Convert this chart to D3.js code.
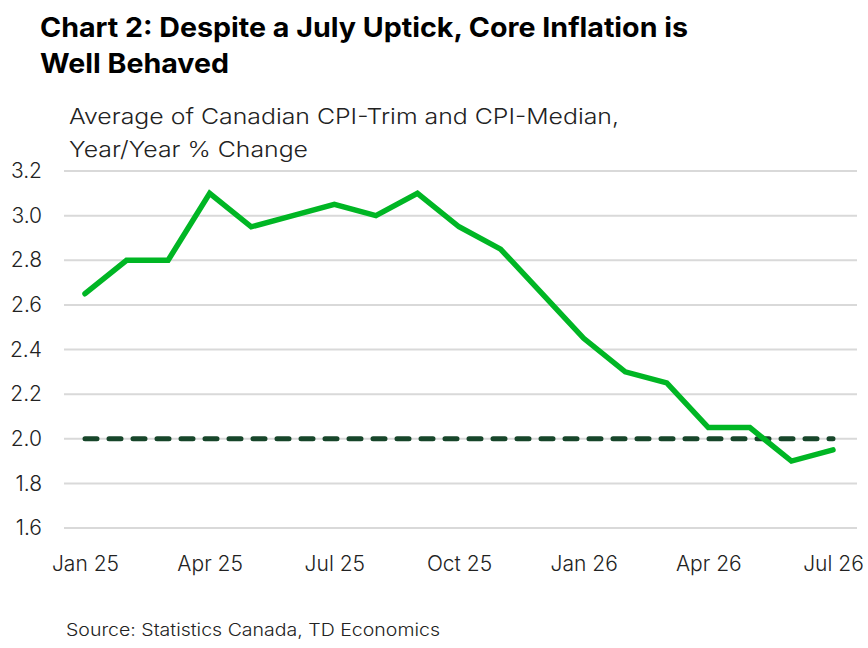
<!DOCTYPE html>
<html>
<head>
<meta charset="utf-8">
<script src="https://cdn.jsdelivr.net/npm/d3@7"></script>
<style>
  body { margin: 0; background: #fff; }
  text { font-family: Inter, "Noto Sans", sans-serif; }
</style>
</head>
<body>
<div id="chart"></div>
<script>
// months shown on the chart
var months = ["Jan 25","Feb 25","Mar 25","Apr 25","May 25","Jun 25","Jul 25","Aug 25","Sep 25",
  "Oct 25","Nov 25","Dec 25","Jan 26","Feb 26","Mar 26","Apr 26","May 26","Jun 26","Jul 26"];
// average of CPI-trim and CPI-median, y/y %
var coreValues = [2.65, 2.8, 2.8, 3.1, 2.95, 3.0, 3.05, 3.0, 3.1,
  2.95, 2.85, 2.65, 2.45, 2.3, 2.25, 2.05, 2.05, 1.9, 1.95];
var targetValue = 2.0;
var yTicks = [1.6, 1.8, 2.0, 2.2, 2.4, 2.6, 2.8, 3.0, 3.2];
var xTickLabels = ["Jan 25","Apr 25","Jul 25","Oct 25","Jan 26","Apr 26","Jul 26"];

var W = 868, H = 648;
var svg = d3.select("#chart").append("svg")
  .attr("width", W).attr("height", H);

// helper for text lines stretched to the reference width
function label(x0, y0, size, weight, len, txt) {
  svg.append("text").attr("x", x0).attr("y", y0)
    .attr("font-size", size).attr("font-weight", weight).attr("fill", weight > 500 ? "#000" : "#222")
    .attr("textLength", len).attr("lengthAdjust", "spacingAndGlyphs")
    .text(txt);
}

// titles
label(40, 37, 27, 700, 648, "Chart 2: Despite a July Uptick, Core Inflation is");
label(40, 73, 27, 700, 189, "Well Behaved");
label(69, 124, 22, 300, 550, "Average of Canadian CPI-Trim and CPI-Median,");
label(69, 157, 22, 300, 239, "Year/Year % Change");

// scales
var x = d3.scalePoint().domain(months).range([85, 833]);
var y = d3.scaleLinear().domain([1.6, 3.2]).range([528, 171]);

// gridlines
svg.append("g").selectAll("line").data(yTicks).enter().append("line")
  .attr("x1", 64).attr("x2", 857)
  .attr("y1", function (d) { return y(d); })
  .attr("y2", function (d) { return y(d); })
  .attr("stroke", "#d9d9d9").attr("stroke-width", 2);

// y axis
var yAxis = svg.append("g").attr("transform", "translate(42,0)")
  .call(d3.axisLeft(y).tickValues(yTicks).tickFormat(d3.format(".1f")).tickSize(0).tickPadding(0));
yAxis.select(".domain").remove();
yAxis.selectAll("text").attr("font-size", 21).attr("fill", "#222")
  .style("font-family", "Inter, 'Noto Sans', sans-serif").attr("font-weight", 300);

// x axis
var xAxis = svg.append("g").attr("transform", "translate(0,554)")
  .call(d3.axisBottom(x).tickValues(xTickLabels).tickSize(0).tickPadding(0));
xAxis.select(".domain").remove();
xAxis.selectAll("text").attr("font-size", 21).attr("fill", "#222").attr("dy", "0.8em")
  .style("font-family", "Inter, 'Noto Sans', sans-serif").attr("font-weight", 300);

// 2% target dashed line
svg.append("path")
  .datum(months)
  .attr("d", d3.line().x(function (d) { return x(d); }).y(function () { return y(targetValue); }))
  .attr("fill", "none").attr("stroke", "#17462a").attr("stroke-width", 5)
  .attr("stroke-dasharray", "12,12").attr("stroke-linecap", "round");

// core inflation line
svg.append("path")
  .datum(coreValues)
  .attr("d", d3.line().x(function (d, i) { return x(months[i]); }).y(function (d) { return y(d); }))
  .attr("fill", "none").attr("stroke", "#00b624").attr("stroke-width", 5.5)
  .attr("stroke-linecap", "round").attr("stroke-linejoin", "miter");

// source
label(66, 636, 17, 300, 374, "Source: Statistics Canada, TD Economics");
</script>
</body>
</html>
